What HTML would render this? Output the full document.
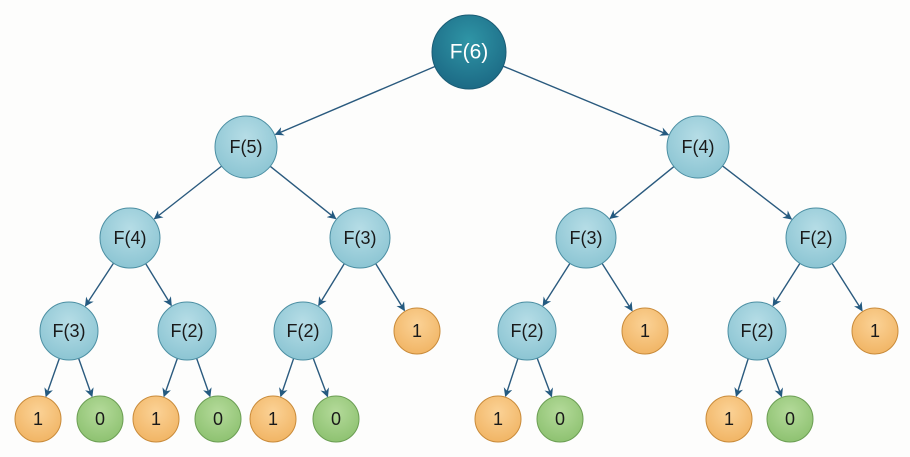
<!DOCTYPE html>
<html><head><meta charset="utf-8"><style>
html,body{margin:0;padding:0;background:#fdfdfc;}
svg{display:block;}
text{font-family:"Liberation Sans",sans-serif;text-anchor:middle;dominant-baseline:central;fill:#1a1a1a;}
</style></head><body>
<svg id="s" width="910" height="457" viewBox="0 0 910 457" xmlns="http://www.w3.org/2000/svg">
<defs>
<radialGradient id="gr" cx="50%" cy="35%" r="65%"><stop offset="0" stop-color="#2f95a6"/><stop offset="1" stop-color="#1c6a85"/></radialGradient>
<radialGradient id="bl" cx="50%" cy="35%" r="65%"><stop offset="0" stop-color="#b6dde6"/><stop offset="1" stop-color="#8cc5d3"/></radialGradient>
<radialGradient id="or" cx="50%" cy="35%" r="65%"><stop offset="0" stop-color="#fbd296"/><stop offset="1" stop-color="#f1b565"/></radialGradient>
<radialGradient id="gn" cx="50%" cy="35%" r="65%"><stop offset="0" stop-color="#b4da9a"/><stop offset="1" stop-color="#8ec271"/></radialGradient>
<marker id="ah" viewBox="0 0 10 10" refX="9" refY="5" markerWidth="9" markerHeight="9" markerUnits="userSpaceOnUse" orient="auto"><path d="M0,0 L10,5 L0,10 L3,5 z" fill="#245a80"/></marker>
</defs>
<g id="edges" stroke="#2a5a7e" stroke-width="1.4" fill="none"></g>
<g id="nodes">
<circle cx="469" cy="52" r="37" fill="url(#gr)" stroke="#1b5c75" stroke-width="1"/><text x="469" y="52" font-size="21" style="fill:#fff">F(6)</text>
<circle cx="246" cy="147" r="31" fill="url(#bl)" stroke="#4c8fa3"/><text x="246" y="147" font-size="18">F(5)</text>
<circle cx="698" cy="147" r="31" fill="url(#bl)" stroke="#4c8fa3"/><text x="698" y="147" font-size="18">F(4)</text>
<circle cx="130" cy="238" r="30" fill="url(#bl)" stroke="#4c8fa3"/><text x="130" y="238" font-size="18">F(4)</text>
<circle cx="360" cy="238" r="30" fill="url(#bl)" stroke="#4c8fa3"/><text x="360" y="238" font-size="18">F(3)</text>
<circle cx="586" cy="238" r="30" fill="url(#bl)" stroke="#4c8fa3"/><text x="586" y="238" font-size="18">F(3)</text>
<circle cx="816" cy="238" r="30" fill="url(#bl)" stroke="#4c8fa3"/><text x="816" y="238" font-size="18">F(2)</text>
<circle cx="69" cy="331" r="29" fill="url(#bl)" stroke="#4c8fa3"/><text x="69" y="331" font-size="18">F(3)</text>
<circle cx="187" cy="331" r="29" fill="url(#bl)" stroke="#4c8fa3"/><text x="187" y="331" font-size="18">F(2)</text>
<circle cx="303" cy="331" r="29" fill="url(#bl)" stroke="#4c8fa3"/><text x="303" y="331" font-size="18">F(2)</text>
<circle cx="417" cy="331" r="23" fill="url(#or)" stroke="#c98b3a"/><text x="417" y="331" font-size="18">1</text>
<circle cx="527" cy="331" r="29" fill="url(#bl)" stroke="#4c8fa3"/><text x="527" y="331" font-size="18">F(2)</text>
<circle cx="645" cy="331" r="23" fill="url(#or)" stroke="#c98b3a"/><text x="645" y="331" font-size="18">1</text>
<circle cx="757" cy="331" r="29" fill="url(#bl)" stroke="#4c8fa3"/><text x="757" y="331" font-size="18">F(2)</text>
<circle cx="875" cy="331" r="23" fill="url(#or)" stroke="#c98b3a"/><text x="875" y="331" font-size="18">1</text>
<circle cx="38" cy="419" r="23" fill="url(#or)" stroke="#c98b3a"/><text x="38" y="419" font-size="18">1</text>
<circle cx="100" cy="419" r="23" fill="url(#gn)" stroke="#6b9e53"/><text x="100" y="419" font-size="18">0</text>
<circle cx="156" cy="419" r="23" fill="url(#or)" stroke="#c98b3a"/><text x="156" y="419" font-size="18">1</text>
<circle cx="218" cy="419" r="23" fill="url(#gn)" stroke="#6b9e53"/><text x="218" y="419" font-size="18">0</text>
<circle cx="273" cy="419" r="23" fill="url(#or)" stroke="#c98b3a"/><text x="273" y="419" font-size="18">1</text>
<circle cx="336" cy="419" r="23" fill="url(#gn)" stroke="#6b9e53"/><text x="336" y="419" font-size="18">0</text>
<circle cx="498" cy="419" r="23" fill="url(#or)" stroke="#c98b3a"/><text x="498" y="419" font-size="18">1</text>
<circle cx="560" cy="419" r="23" fill="url(#gn)" stroke="#6b9e53"/><text x="560" y="419" font-size="18">0</text>
<circle cx="729" cy="419" r="23" fill="url(#or)" stroke="#c98b3a"/><text x="729" y="419" font-size="18">1</text>
<circle cx="790" cy="419" r="23" fill="url(#gn)" stroke="#6b9e53"/><text x="790" y="419" font-size="18">0</text>
</g>
</svg>
<script>
var N={a:[469,52,37],b:[246,147,31],c:[698,147,31],d:[130,238,30],e:[360,238,30],f:[586,238,30],g:[816,238,30],
h:[69,331,29],i:[187,331,29],j:[303,331,29],k:[417,331,23],l:[527,331,29],m:[645,331,23],n:[757,331,29],o:[875,331,23],
p:[38,419,23],q:[100,419,23],r:[156,419,23],s:[218,419,23],t:[273,419,23],u:[336,419,23],v:[498,419,23],w:[560,419,23],x:[729,419,23],y:[790,419,23]};
var E=["ab","ac","bd","be","cf","cg","dh","di","ej","ek","fl","fm","gn","go","hp","hq","ir","is","jt","ju","lv","lw","nx","ny"];
var g=document.getElementById("edges"),ns="http://www.w3.org/2000/svg";
E.forEach(function(e){var A=N[e[0]],B=N[e[1]],dx=B[0]-A[0],dy=B[1]-A[1],L=Math.sqrt(dx*dx+dy*dy),ux=dx/L,uy=dy/L;
var l=document.createElementNS(ns,"line");l.setAttribute("x1",A[0]+ux*A[2]);l.setAttribute("y1",A[1]+uy*A[2]);
l.setAttribute("x2",B[0]-ux*(B[2]+1));l.setAttribute("y2",B[1]-uy*(B[2]+1));l.setAttribute("marker-end","url(#ah)");g.appendChild(l);});
</script>
</body></html>
